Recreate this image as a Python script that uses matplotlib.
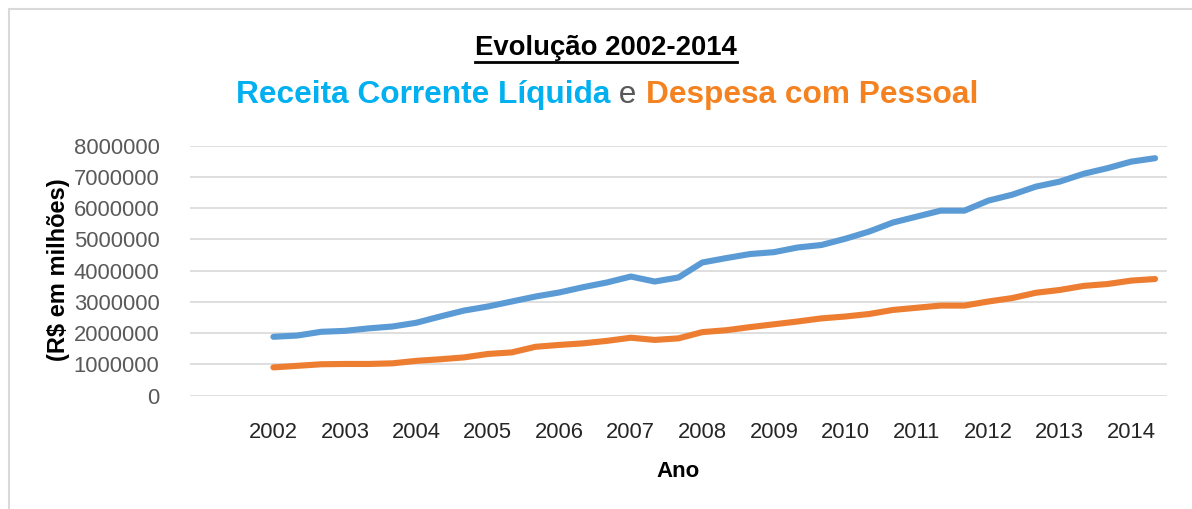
import matplotlib
matplotlib.use('Agg')
import matplotlib.pyplot as plt
from matplotlib.patches import Rectangle
from matplotlib.lines import Line2D

# dados (R$), 3 registros por ano
anos = ['2002', '2003', '2004', '2005', '2006', '2007', '2008',
        '2009', '2010', '2011', '2012', '2013', '2014']
receita = [1.88, 1.92, 2.04, 2.07, 2.15, 2.21, 2.33, 2.53, 2.72, 2.85,
           3.01, 3.17, 3.30, 3.47, 3.62, 3.81, 3.65, 3.78, 4.26, 4.40,
           4.53, 4.59, 4.74, 4.82, 5.02, 5.25, 5.54, 5.73, 5.92, 5.92,
           6.24, 6.43, 6.69, 6.85, 7.10, 7.28, 7.49, 7.60]
despesa = [0.90, 0.95, 1.00, 1.01, 1.01, 1.03, 1.11, 1.16, 1.22, 1.33,
           1.38, 1.56, 1.62, 1.67, 1.75, 1.85, 1.78, 1.83, 2.03, 2.09,
           2.19, 2.28, 2.37, 2.47, 2.53, 2.61, 2.74, 2.81, 2.88, 2.88,
           3.01, 3.12, 3.29, 3.38, 3.51, 3.57, 3.68, 3.73]
receita = [v * 1e6 for v in receita]
despesa = [v * 1e6 for v in despesa]

plt.rcParams['font.family'] = ['Liberation Sans', 'DejaVu Sans']

W, H = 1192, 509
fig = plt.figure(figsize=(W / 100, H / 100), dpi=100)
ax = fig.add_axes([190 / W, 1 - 395.5 / H, 977 / W, 249.8 / H])

x = list(range(len(receita)))
ax.plot(x, receita, color='#5B9BD5', lw=4.4, solid_capstyle='round', solid_joinstyle='round', zorder=3)
ax.plot(x, despesa, color='#ED7D31', lw=4.4, solid_capstyle='round', solid_joinstyle='round', zorder=3)

ax.set_xlim(-3.5, 37.5)
ax.set_ylim(0, 8000000)
ax.set_yticks(range(0, 8000001, 1000000))
ax.set_yticklabels([str(v) for v in range(0, 8000001, 1000000)],
                   color='#595959', fontsize=15.8)
ax.set_xticks([3 * i for i in range(len(anos))])
ax.set_xticklabels(anos, fontsize=15.8, color='#262626')
ax.tick_params(length=0)
ax.tick_params(axis='y', pad=22)
ax.tick_params(axis='x', pad=19)
ax.grid(axis='y', color='#D9D9D9', lw=1.2)
ax.set_axisbelow(True)
for s in ax.spines.values():
    s.set_visible(False)

ax.set_xlabel('Ano', fontsize=16, fontweight='bold', labelpad=13)
fig.text(59 / W, 1 - 270 / H, '(R$ em milhões)', rotation=90, fontsize=17,
         fontweight='bold', ha='center', va='center')

# moldura
fig.add_artist(Rectangle((9 / W, -0.2), 1.5, 1.2 - 9 / H, transform=fig.transFigure,
                         fill=False, ec='#D9D9D9', lw=1.5))

# titulo
t = fig.text(606 / W, 1 - 48 / H, 'Evolução 2002-2014', fontsize=19.8, fontweight='bold',
             ha='center', va='center')
fig.canvas.draw()
r = fig.canvas.get_renderer()
bb = t.get_window_extent(r)
fig.add_artist(Line2D([bb.x0 / W, bb.x1 / W], [(bb.y0 - 1) / H, (bb.y0 - 1) / H],
                      color='black', lw=2, transform=fig.transFigure))

# subtitulo em tres cores
partes = [('Receita Corrente Líquida', '#00B0F0', 'bold'),
          (' e ', '#595959', 'normal'),
          ('Despesa com Pessoal', '#F58220', 'bold')]
txts = []
for s, c, w in partes:
    txts.append(fig.text(0, 1 - 95 / H, s, color=c, fontweight=w, fontsize=22.8,
                         ha='left', va='center'))
fig.canvas.draw()
larg = [tt.get_window_extent(r).width for tt in txts]
x0 = 607 - sum(larg) / 2
for tt, l in zip(txts, larg):
    tt.set_x(x0 / W)
    x0 += l

fig.savefig('out.png', dpi=100)
